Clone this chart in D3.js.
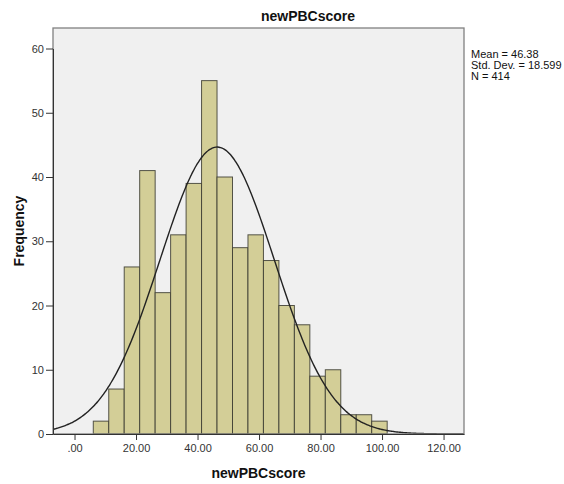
<!DOCTYPE html>
<html lang="en">
<head>
    <meta charset="UTF-8">
    <title>newPBCscore</title>
    <script src="https://cdnjs.cloudflare.com/ajax/libs/d3/7.8.5/d3.min.js"></script>
    <style>
        body { margin: 0; background: #fff; }
        #chart { width: 564px; height: 484px; }
        text { font-family: "Liberation Sans", Arial, sans-serif; }
    </style>
</head>
<body>
    <div id="chart"></div>
<script>
    // histogram counts, one per bin (bins of equal width)
    const counts = [2, 7, 26, 41, 22, 31, 39, 55, 40, 29, 31, 27, 20, 17, 9, 10, 3, 3, 2];
    const binStart = 6.1;
    const binWidth = 5.03;
    const xTicks = [0, 20, 40, 60, 80, 100, 120];
    const yTicks = [0, 10, 20, 30, 40, 50, 60];
    const stats = { mean: 46.38, sd: 18.599, n: 414 };
    const statLines = ["Mean = 46.38", "Std. Dev. = 18.599", "N = 414"];

    let draw = () => {
        let svg = d3.select("#chart").append("svg")
            .attr("width", 564)
            .attr("height", 484);

        // plot box
        let box = { left: 53, top: 28, right: 464, bottom: 434 };

        let x = d3.scaleLinear().domain([-7, 126.65]).range([box.left, box.right]);
        let y = d3.scaleLinear().domain([0, 60]).range([box.bottom, box.bottom - 385.5]);

        svg.append("rect")
            .attr("x", box.left).attr("y", box.top)
            .attr("width", box.right - box.left).attr("height", box.bottom - box.top)
            .attr("fill", "#f0f0f0");

        svg.append("defs").append("clipPath").attr("id", "clip")
            .append("rect")
            .attr("x", box.left).attr("y", box.top)
            .attr("width", box.right - box.left).attr("height", box.bottom - box.top);

        // bars
        svg.append("g").selectAll("rect")
            .data(counts)
            .enter().append("rect")
            .attr("x", (d, i) => x(binStart + i * binWidth))
            .attr("y", d => y(d))
            .attr("width", (d, i) => x(binStart + (i + 1) * binWidth) - x(binStart + i * binWidth))
            .attr("height", d => y(0) - y(d))
            .attr("fill", "#d3ce97")
            .attr("stroke", "#3a3a30")
            .attr("stroke-opacity", 0.85)
            .attr("stroke-width", 1);

        // normal curve
        let pdf = v => stats.n * binWidth / (stats.sd * Math.sqrt(2 * Math.PI)) *
            Math.exp(-0.5 * Math.pow((v - stats.mean) / stats.sd, 2));
        let pts = d3.range(x.domain()[0], x.domain()[1] + 0.5, 0.5);
        svg.append("path")
            .datum(pts)
            .attr("clip-path", "url(#clip)")
            .attr("fill", "none")
            .attr("stroke", "#222")
            .attr("stroke-width", 1.4)
            .attr("d", d3.line().x(d => x(d)).y(d => y(pdf(d))).curve(d3.curveBasis));

        // plot border
        svg.append("rect")
            .attr("x", box.left).attr("y", box.top)
            .attr("width", box.right - box.left).attr("height", box.bottom - box.top)
            .attr("fill", "none")
            .attr("stroke", "#808080")
            .attr("stroke-width", 1.3);

        // axes
        let xAxis = d3.axisBottom(x).tickValues(xTicks).tickSize(6).tickSizeOuter(0).tickPadding(4)
            .tickFormat(v => v === 0 ? ".00" : v.toFixed(2));
        let gx = svg.append("g")
            .attr("transform", "translate(0," + box.bottom + ")")
            .call(xAxis);
        gx.select(".domain").attr("stroke", "#333");

        let yAxis = d3.axisLeft(y).tickValues(yTicks).tickSize(7).tickSizeOuter(0).tickPadding(2);
        let gy = svg.append("g")
            .attr("transform", "translate(" + box.left + ",0)")
            .call(yAxis);
        gy.select(".domain").attr("stroke", "#333");

        svg.selectAll(".tick line").attr("stroke", "#333");
        svg.selectAll(".tick text")
            .attr("fill", "#333")
            .style("font-family", "'Liberation Sans', Arial, sans-serif")
            .style("font-size", "11px");

        // titles
        svg.append("text")
            .attr("x", 308).attr("y", 21)
            .attr("text-anchor", "middle")
            .style("font-size", "14px").style("font-weight", "bold")
            .attr("fill", "#111")
            .text("newPBCscore");

        svg.append("text")
            .attr("x", (box.left + box.right) / 2).attr("y", 478)
            .attr("text-anchor", "middle")
            .style("font-size", "14px").style("font-weight", "bold")
            .attr("fill", "#111")
            .text("newPBCscore");

        svg.append("text")
            .attr("transform", "translate(24," + ((box.top + box.bottom) / 2) + ") rotate(-90)")
            .attr("text-anchor", "middle")
            .style("font-size", "14px").style("font-weight", "bold")
            .attr("fill", "#111")
            .text("Frequency");

        // stats box
        svg.append("g").selectAll("text")
            .data(statLines)
            .enter().append("text")
            .attr("x", 471)
            .attr("y", (d, i) => 58 + i * 11)
            .style("font-size", "11px")
            .attr("fill", "#111")
            .text(d => d);
    }
    draw();
</script>
</body>
</html>
